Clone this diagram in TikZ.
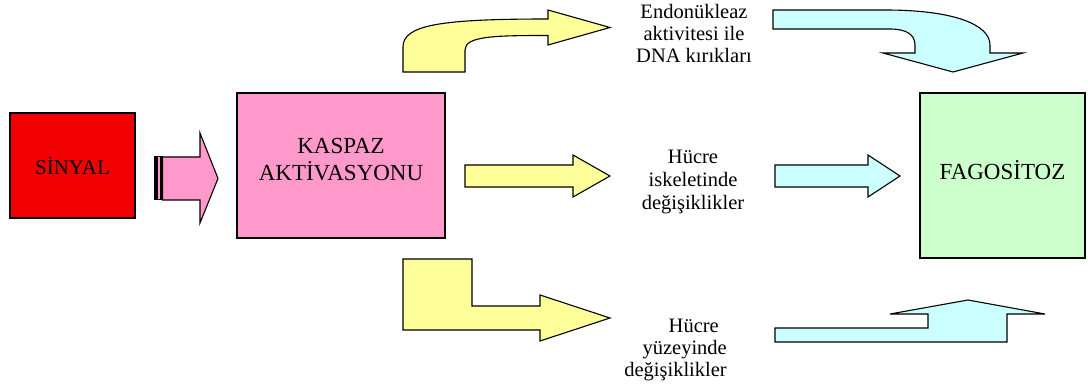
\documentclass[tikz,border=0pt]{standalone}
\usepackage{fontspec}
\setmainfont{Liberation Serif}
\definecolor{sigred}{HTML}{F00000}
\definecolor{caspink}{HTML}{FF99CC}
\definecolor{fagogreen}{HTML}{CCFFCC}
\definecolor{arryellow}{HTML}{FFFF99}
\definecolor{arrcyan}{HTML}{CCFFFF}
\begin{document}
\begin{tikzpicture}[x=1pt,y=-1pt,line join=miter,
  box/.style={draw=black,line width=1.2pt,inner sep=0pt,align=center},
  boxtext/.style={align=center,inner sep=0pt},
  blockarrow/.style={draw=black,line width=1.1pt},
  lbl/.style={align=center,inner sep=0pt,anchor=north}]
\useasboundingbox (0,0) rectangle (1088,385);

% main boxes
\node[box,fill=sigred,minimum width=125pt,minimum height=105pt,
  font=\fontsize{21}{24}\selectfont] (sinyal) at (72.5,165.5) {SİNYAL};
\node[box,fill=caspink,minimum width=208pt,minimum height=145pt] (kaspaz) at (341,165.5) {};
\node[boxtext,font=\fontsize{23}{27}\selectfont] (kaspaztxt)
  at (341,160) {KASPAZ\\AKTİVASYONU};
\node[box,fill=fagogreen,minimum width=165pt,minimum height=165pt] (fago) at (1002.5,175.5) {};
\node[boxtext,font=\fontsize{23}{26}\selectfont] (fagotxt) at (1002.5,170) {FAGOSİTOZ};

% outcome labels
\node[lbl,font=\fontsize{20.5}{22}\selectfont] (endo) at (694,4)
  {Endonükleaz\\aktivitesi ile\\DNA kırıkları};
\node[lbl,font=\fontsize{20.5}{23}\selectfont] (iskelet) at (693,150)
  {Hücre\\iskeletinde\\değişiklikler};
\node[lbl,align=right,font=\fontsize{20.5}{22}\selectfont,anchor=north east] (yuzey) at (727,319)
  {Hücre\rule{8pt}{0pt}\\yüzeyinde\\değişiklikler};

% striped arrow: signal -> caspase activation
\filldraw[blockarrow,fill=caspink,line width=1pt] (154.5,157) rectangle (162.5,200);
\fill[black] (154.5,157) rectangle (158,200);
\fill[black] (160.3,157) rectangle (162,200);
\filldraw[blockarrow,fill=caspink] (162.5,157) -- (200,157) -- (200,133) -- (218,178.5)
  -- (200,223) -- (200,200) -- (162.5,200) -- cycle;

% yellow arrows out of caspase activation
\filldraw[blockarrow,fill=arryellow] (403,72) -- (403,47)
  .. controls (403,25) and (440,19) .. (548,19) -- (548,10) -- (610,27.5) -- (548,45)
  -- (548,35.5) .. controls (495,35.5) and (465,36) .. (465,50) -- (465,72) -- cycle;
\filldraw[blockarrow,fill=arryellow] (465,165) -- (573,165) -- (573,155) -- (610,176)
  -- (573,197) -- (573,187) -- (465,187) -- cycle;
\filldraw[blockarrow,fill=arryellow] (403,259) -- (472,259) -- (472,306) -- (540,306)
  -- (540,295) -- (610,318) -- (540,341) -- (540,330) -- (403,330) -- cycle;

% cyan arrows into phagocytosis
\filldraw[blockarrow,fill=arrcyan] (773,10) -- (885,10)
  .. controls (955,10) and (990,25) .. (990,45) -- (990,53) -- (1023,53) -- (953,72)
  -- (883,53) -- (915,53) -- (915,45) .. controls (915,35) and (907,29) .. (890,29)
  -- (773,29) -- cycle;
\filldraw[blockarrow,fill=arrcyan] (775,165) -- (868,165) -- (868,155) -- (900,176)
  -- (868,197) -- (868,187) -- (775,187) -- cycle;
\filldraw[blockarrow,fill=arrcyan] (775,328) -- (928,328) -- (928,314) -- (890,314)
  -- (968,300) -- (1045,314) -- (1007,314) -- (1007,342) -- (775,342) -- cycle;
\end{tikzpicture}
\end{document}
